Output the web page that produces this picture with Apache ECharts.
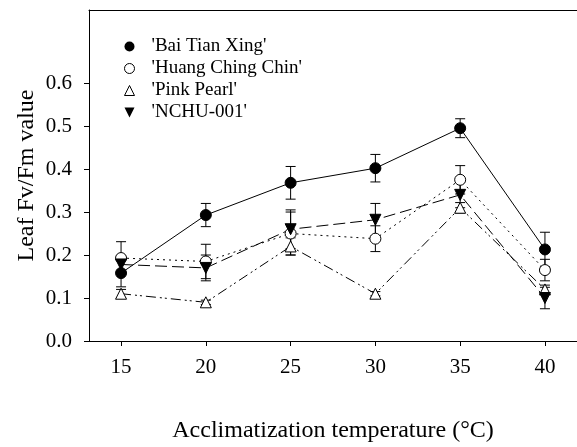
<!DOCTYPE html>
<html>
<head>
<meta charset="utf-8">
<script src="https://cdn.jsdelivr.net/npm/echarts@6/dist/echarts.min.js"></script>
<style>
  html, body { margin: 0; padding: 0; background: #fff; }
  #main { width: 577px; height: 447px; }
</style>
</head>
<body>
<div id="main"></div>
<script>
// acclimatization temperatures (°C)
var temps = [15, 20, 25, 30, 35, 40];
var xTicks = [15, 20, 25, 30, 35, 40];
var yTicks = [0, 0.1, 0.2, 0.3, 0.4, 0.5, 0.6];

// Fv/Fm means and error bars
var baiTianXing = [0.158, 0.293, 0.368, 0.402, 0.495, 0.213];
var baiTianXingErr = [0.032, 0.027, 0.038, 0.032, 0.022, 0.040];
var huangChingChin = [0.193, 0.185, 0.250, 0.238, 0.375, 0.165];
var huangChingChinErr = [0.038, 0.040, 0.050, 0.030, 0.033, 0.025];
var pinkPearl = [0.110, 0.090, 0.220, 0.110, 0.310, 0.120];
var pinkPearlErr = [0.010, 0.005, 0.020, 0.005, 0.012, 0.010];
var nchu001 = [0.178, 0.170, 0.260, 0.282, 0.340, 0.100];
var nchu001Err = [0.020, 0.030, 0.045, 0.038, 0.030, 0.025];

var names = ["'Bai Tian Xing'", "'Huang Ching Chin'", "'Pink Pearl'", "'NCHU-001'"];
var FONT = "Liberation Serif";

var myChart = echarts.init(document.getElementById("main"));

function pairs(ys) {
  return temps.map(function (t, i) { return [t, ys[i]]; });
}

function errSeries(ys, es) {
  return {
    type: "custom",
    silent: true,
    z: 1,
    data: temps.map(function (t, i) { return [t, ys[i], es[i]]; }),
    renderItem: function (params, api) {
      var x = api.value(0), y = api.value(1), e = api.value(2);
      var hi = api.coord([x, y + e]);
      var lo = api.coord([x, y - e]);
      var w = 5;
      var st = { stroke: "#000", lineWidth: 1 };
      return {
        type: "group",
        children: [
          { type: "line", shape: { x1: hi[0], y1: hi[1], x2: lo[0], y2: lo[1] }, style: st },
          { type: "line", shape: { x1: hi[0] - w, y1: hi[1], x2: hi[0] + w, y2: hi[1] }, style: st },
          { type: "line", shape: { x1: lo[0] - w, y1: lo[1], x2: lo[0] + w, y2: lo[1] }, style: st }
        ]
      };
    }
  };
}

function lineSeries(name, ys, symbol, fill, dash, rotate) {
  return {
    name: name,
    type: "line",
    z: 3,
    data: pairs(ys),
    symbol: symbol,
    symbolSize: 11,
    symbolRotate: rotate || 0,
    showAllSymbol: true,
    lineStyle: { color: "#000", width: 1, type: dash },
    itemStyle: { color: fill, borderColor: "#000", borderWidth: 1 },
    emphasis: { disabled: true }
  };
}

var option = {
  backgroundColor: "#fff",
  animation: false,
  textStyle: { fontFamily: FONT },
  grid: { left: 89, right: 0, top: 10, bottom: 106, outerBoundsMode: "none" },
  legend: {
    orient: "vertical",
    left: 119,
    top: 32,
    itemWidth: 10,
    itemHeight: 10,
    itemGap: 3,
    textStyle: { fontFamily: FONT, fontSize: 19, color: "#000", padding: [0, 0, 0, 12] },
    data: [
      { name: names[0], icon: "circle", itemStyle: { color: "#000", borderWidth: 0 } },
      { name: names[1], icon: "circle", itemStyle: { color: "#fff", borderColor: "#000", borderWidth: 1 } },
      { name: names[2], icon: "triangle", itemStyle: { color: "#fff", borderColor: "#000", borderWidth: 1 } },
      { name: names[3], icon: "path://M0,0 L10,0 L5,10 Z", itemStyle: { color: "#000", borderWidth: 0 } }
    ]
  },
  xAxis: [
    {
      type: "value",
      min: 13.11,
      max: 41.89,
      name: "Acclimatization temperature (\u00b0C)",
      nameLocation: "middle",
      nameGap: 78,
      nameMoveOverlap: false,
      nameTextStyle: { fontFamily: FONT, fontSize: 24, color: "#000" },
      axisLine: { show: true, onZero: false, lineStyle: { color: "#000", width: 1 } },
      axisTick: { show: true, length: 5, lineStyle: { color: "#000" }, customValues: xTicks },
      axisLabel: { fontFamily: FONT, fontSize: 21, color: "#000", margin: 16, customValues: xTicks },
      splitLine: { show: false }
    },
    {
      type: "value",
      position: "top",
      min: 13.11,
      max: 41.89,
      axisLine: { show: true, onZero: false, lineStyle: { color: "#000", width: 1 } },
      axisTick: { show: false },
      axisLabel: { show: false },
      splitLine: { show: false }
    }
  ],
  yAxis: {
    type: "value",
    min: 0,
    max: 0.77,
    name: "Leaf Fv/Fm value",
    nameLocation: "middle",
    nameGap: 50,
    nameMoveOverlap: false,
    nameTextStyle: { fontFamily: FONT, fontSize: 24, color: "#000" },
    axisLine: { show: true, lineStyle: { color: "#000", width: 1 } },
    axisTick: { show: true, length: 5, lineStyle: { color: "#000" }, customValues: yTicks },
    axisLabel: {
      fontFamily: FONT, fontSize: 21, color: "#000", margin: 17, customValues: yTicks,
      formatter: function (v) { return v.toFixed(1); }
    },
    splitLine: { show: false }
  },
  series: [
    errSeries(baiTianXing, baiTianXingErr),
    errSeries(huangChingChin, huangChingChinErr),
    errSeries(pinkPearl, pinkPearlErr),
    errSeries(nchu001, nchu001Err),
    lineSeries(names[0], baiTianXing, "circle", "#000", "solid"),
    lineSeries(names[1], huangChingChin, "circle", "#fff", [2, 4]),
    lineSeries(names[2], pinkPearl, "triangle", "#fff", [10, 4, 2, 3, 2, 4]),
    lineSeries(names[3], nchu001, "triangle", "#000", [12, 5], 180)
  ]
};

myChart.setOption(option);
</script>
</body>
</html>
